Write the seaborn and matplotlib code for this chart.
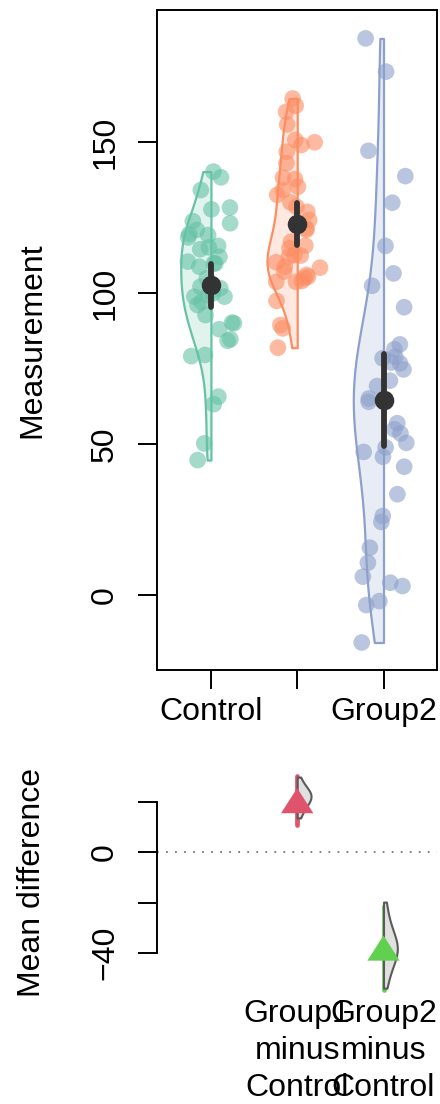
import numpy as np
import pandas as pd
import matplotlib
matplotlib.use("Agg")
import matplotlib.pyplot as plt
import seaborn as sns

sns.set_theme(style="white")
plt.rcParams["font.family"] = ["Liberation Sans", "DejaVu Sans"]
plt.rcParams["axes.unicode_minus"] = True
for k in ["text.color", "axes.labelcolor", "xtick.color", "ytick.color"]:
    plt.rcParams[k] = "black"

groups = ["Control", "Group1", "Group2"]
control = [140.2, 138.3, 134.1, 127.7, 128.3, 123.1, 123.8, 120.9, 119.5, 119.2,
           118.4, 115.1, 115.6, 114.5, 112.0, 109.8, 110.4, 109.8, 108.7, 104.9,
           102.1, 101.6, 99.3, 98.8, 99.9, 98.8, 97.1, 96.0, 92.7, 90.2,
           90.0, 88.0, 84.7, 84.2, 79.5, 79.1, 65.7, 63.2, 50.2, 44.7]
group1 = [164.4, 162.0, 160.0, 155.8, 150.7, 149.9, 149.0, 146.8, 143.0, 137.7,
          138.2, 134.1, 135.2, 132.5, 128.6, 130.0, 126.9, 124.2, 121.4, 120.9,
          117.0, 115.7, 114.8, 112.4, 112.0, 112.6, 110.2, 108.7, 108.4, 107.1,
          106.0, 104.9, 105.4, 103.7, 104.0, 103.7, 97.4, 88.3, 89.4, 81.9]
group2 = [184.3, 173.3, 147.1, 138.7, 129.9, 115.6, 106.5, 102.4, 95.3, 83.0,
          81.4, 78.4, 76.7, 78.9, 77.0, 74.7, 71.0, 69.2, 64.0, 65.1,
          64.0, 54.9, 56.9, 50.4, 53.5, 48.9, 47.4, 45.8, 42.5, 33.4,
          26.2, 24.2, 15.7, 10.7, 6.1, 3.0, 4.1, -3.3, -2.0, -15.7]
group_colors = ["#66C2A5", "#FC8D62", "#8DA0CB"]
fill_colors = ["#E0F3ED", "#FEE8E0", "#E8ECF5"]

# bootstrap distribution of the mean differences
contrast_groups = ["Group1", "Group2"]
contrast_labels = ["Group1\nminus\nControl", "Group2\nminus\nControl"]
diff1_boot = [13.5, 16.0, 17.5, 18.5, 19.5, 20.2, 21.0, 21.6, 22.2, 22.8,
              23.4, 24.0, 24.8, 25.8, 27.2, 29.7]
diff2_boot = [-53.9, -49.0, -46.0, -44.0, -42.0, -40.5, -39.5, -38.5, -37.5,
              -36.5, -35.0, -33.5, -31.5, -29.0, -25.5, -19.8]
diff_colors = ["#DF536B", "#61D04F"]

df = pd.DataFrame({
    "group": np.repeat(groups, [len(control), len(group1), len(group2)]),
    "value": control + group1 + group2,
    "side": "L",
})
diff_df = pd.DataFrame({
    "contrast": np.repeat(contrast_groups, [len(diff1_boot), len(diff2_boot)]),
    "value": diff1_boot + diff2_boot,
    "side": "R",
})

FS = 23
fig = plt.figure(figsize=(4.4, 11.04), dpi=100)
ax = fig.add_axes([157 / 440, 1 - 670 / 1104, 280 / 440, 660 / 1104])
ax2 = fig.add_axes([157 / 440, 1 - 995 / 1104, 280 / 440, 225 / 1104])

# ---- top panel: raw data, half violins on the left
for i, g in enumerate(groups):
    sns.violinplot(data=df[df.group == g], x="group", y="value", order=groups,
                   hue="side", hue_order=["L", "R"], split=True, dodge=True,
                   inner=None, cut=0, width=0.7, bw_adjust=0.85,
                   density_norm="width",
                   palette={"L": fill_colors[i], "R": fill_colors[i]},
                   linecolor=group_colors[i], linewidth=1.6, saturation=1,
                   legend=False, ax=ax)

np.random.seed(3)
sns.stripplot(data=df, x="group", y="value", order=groups, hue="group",
              hue_order=groups, palette=group_colors, jitter=0.28, size=12,
              alpha=0.6, linewidth=0, legend=False, ax=ax, zorder=3)

sns.pointplot(data=df, x="group", y="value", order=groups, errorbar=("se", 2.02),
              color="#333333", linestyle="none", markersize=12,
              err_kws={"linewidth": 4.2, "solid_capstyle": "round"}, ax=ax, zorder=5)

ax.set_xlim(-0.625, 2.62)
ax.set_ylim(-24.8, 193.7)
ax.set_yticks([0, 50, 100, 150])
ax.set_xticks(range(3))
ax.set_xticklabels(["Control", "", "Group2"])
ax.set_xlabel("")
ax.set_ylabel("Measurement", fontsize=FS, labelpad=31)
for s in ax.spines.values():
    s.set_visible(True)
    s.set_color("black")
    s.set_linewidth(1.4)
ax.tick_params(axis="both", which="major", direction="out", length=13.5,
               width=1.4, color="black", labelsize=FS, bottom=True, left=True)
ax.tick_params(axis="y", pad=13, labelrotation=90)
ax.tick_params(axis="x", pad=6)
for t in ax.get_yticklabels():
    t.set_va("center")

# ---- bottom panel: mean differences, half violins on the right
means = [np.mean(v) for v in (control, group1, group2)]
ses = [np.std(v, ddof=1) / np.sqrt(len(v)) for v in (control, group1, group2)]
pos = [groups.index(g) for g in contrast_groups]
diffs = [means[p] - means[0] for p in pos]
half = [2.02 * np.sqrt(ses[p] ** 2 + ses[0] ** 2) for p in pos]

sns.violinplot(data=diff_df, x="contrast", y="value", order=groups, hue="side",
               hue_order=["L", "R"], split=True, dodge=True, inner=None, cut=0,
               width=0.32, bw_adjust=1.0, density_norm="width",
               palette={"L": "#E0E0E0", "R": "#E0E0E0"},
               linecolor="#5a5a5a", linewidth=1.5, saturation=1, legend=False,
               ax=ax2)
for coll in ax2.collections:
    coll.set_zorder(2)

ci = ax2.vlines(pos, [d - h for d, h in zip(diffs, half)],
                [d + h for d, h in zip(diffs, half)], colors=diff_colors,
                linewidth=3.4, capstyle="round")
ci.set_zorder(1.5)

tri = [(-1.0, -0.78), (1.0, -0.78), (0.0, 0.78)]
ax2.scatter(pos, diffs, marker=tri, s=540, c=diff_colors, linewidths=0, zorder=4)

ax2.axhline(0, color="#777777", linewidth=1.3, linestyle=(0, (1, 4.0)), zorder=0)
ax2.set_xlim(-0.625, 2.62)
ax2.set_ylim(-56.6, 32.5)
ax2.set_yticks([20, 0, -20, -40])
ax2.set_yticklabels(["", "0", "", "\u221240"])
ax2.set_xticks(pos)
ax2.set_xticklabels(contrast_labels)
ax2.set_xlabel("")
ax2.set_ylabel("Mean difference", fontsize=FS, labelpad=31)
for k in ["top", "right", "bottom"]:
    ax2.spines[k].set_visible(False)
ax2.spines["left"].set_visible(True)
ax2.spines["left"].set_color("black")
ax2.spines["left"].set_linewidth(1.4)
ax2.spines["left"].set_bounds(-40, 20)
ax2.tick_params(axis="y", direction="out", length=13.5, width=1.4, color="black",
                labelsize=FS, pad=13, labelrotation=90, left=True)
ax2.tick_params(axis="x", length=0, labelsize=FS, pad=3)
for t in ax2.get_yticklabels():
    t.set_va("center")
for t in ax2.get_xticklabels():
    t.set_linespacing(1.3)

fig.savefig("out.png", dpi=100)
